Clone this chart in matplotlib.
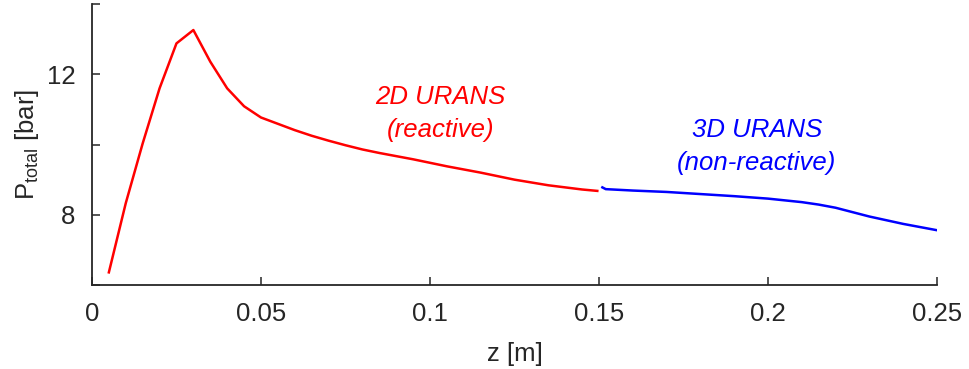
import matplotlib
matplotlib.use("Agg")
import matplotlib.pyplot as plt

plt.rcParams['font.family'] = ['Liberation Sans', 'DejaVu Sans']
plt.rcParams['mathtext.fontset'] = 'custom'
plt.rcParams['mathtext.rm'] = 'Liberation Sans'
plt.rcParams['mathtext.it'] = 'Liberation Sans:italic'

# 2D URANS (reactive)
z_2d = [0.005, 0.010, 0.015, 0.020, 0.025, 0.030, 0.035, 0.040, 0.045, 0.050,
        0.055, 0.060, 0.065, 0.070, 0.075, 0.080, 0.085, 0.090, 0.095, 0.100,
        0.105, 0.110, 0.115, 0.120, 0.125, 0.130, 0.135, 0.140, 0.145, 0.1495]
p_2d = [6.36, 8.33, 10.03, 11.60, 12.88, 13.26, 12.36, 11.60, 11.09, 10.77,
        10.59, 10.41, 10.25, 10.11, 9.98, 9.86, 9.76, 9.67, 9.58, 9.48,
        9.38, 9.29, 9.20, 9.10, 9.00, 8.92, 8.84, 8.78, 8.72, 8.68]

# 3D URANS (non-reactive)
z_3d = [0.151, 0.152, 0.160, 0.170, 0.180, 0.190, 0.200, 0.210, 0.215,
        0.220, 0.230, 0.240, 0.250]
p_3d = [8.78, 8.73, 8.69, 8.65, 8.59, 8.53, 8.46, 8.36, 8.29,
        8.20, 7.95, 7.74, 7.56]

x_ticks = [0, 0.05, 0.1, 0.15, 0.2, 0.25]
x_labels = ['0', '0.05', '0.1', '0.15', '0.2', '0.25']
y_ticks = [6, 8, 10, 12, 14]
y_labels = ['', '8', '', '12', '']

axis_col = '#262626'
fs = 18.5

fig = plt.figure(figsize=(9.69, 3.69), dpi=100)
ax = fig.add_axes([0.0949, 0.2276, 0.967 - 0.0949, 0.989 - 0.2276])

ax.plot(z_2d, p_2d, color='#ff0000', lw=1.8)
ax.plot(z_3d, p_3d, color='#0000ff', lw=1.8)

ax.set_xlim(0, 0.25)
ax.set_ylim(6, 14)
ax.set_xticks(x_ticks)
ax.set_xticklabels(x_labels)
ax.set_yticks(y_ticks)
ax.set_yticklabels(y_labels)

for s in ['top', 'right']:
    ax.spines[s].set_visible(False)
for s in ['left', 'bottom']:
    ax.spines[s].set_color(axis_col)
    ax.spines[s].set_linewidth(1.3)

ax.tick_params(direction='in', length=6, width=1.1, colors=axis_col,
               labelsize=fs, pad=12)

ax.set_xlabel('z [m]', fontsize=fs, color=axis_col, labelpad=12)
ax.set_ylabel(r'P$_{\mathrm{total}}$ [bar]', fontsize=fs, color=axis_col, labelpad=4)

ax.text(0.1031, 11.36, '2D URANS', color='#ff0000', fontsize=fs,
        style='italic', ha='center', va='center')
ax.text(0.1031, 10.41, '(reactive)', color='#ff0000', fontsize=fs,
        style='italic', ha='center', va='center')
ax.text(0.1967, 10.41, '3D URANS', color='#0000ff', fontsize=fs,
        style='italic', ha='center', va='center')
ax.text(0.1967, 9.47, '(non-reactive)', color='#0000ff', fontsize=fs,
        style='italic', ha='center', va='center')

fig.savefig('out.png', dpi=100)
